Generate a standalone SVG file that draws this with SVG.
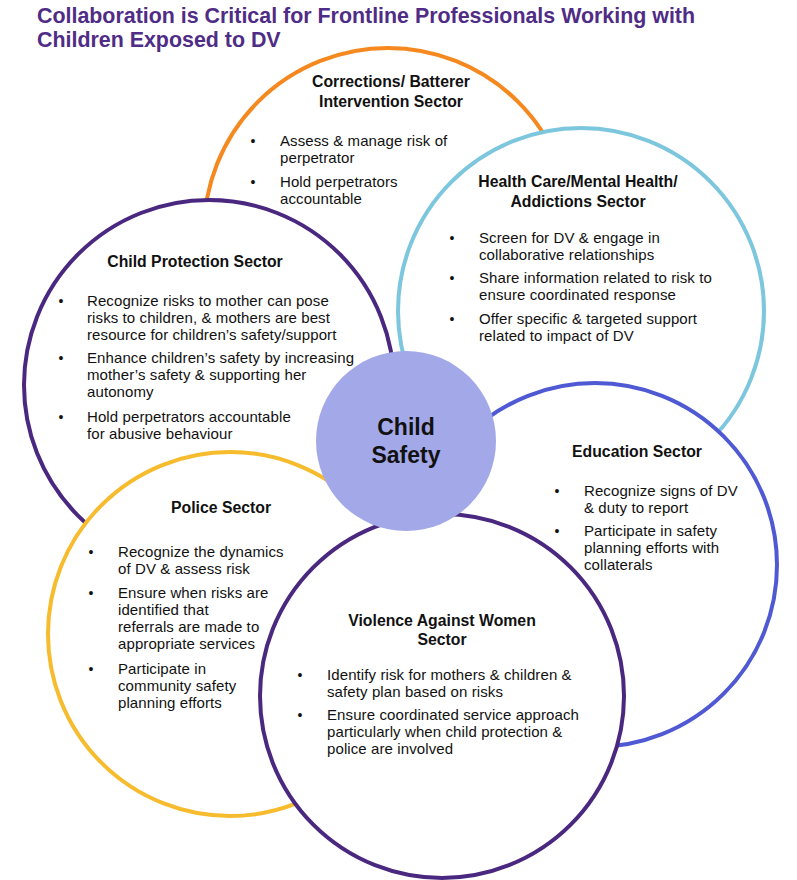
<svg xmlns="http://www.w3.org/2000/svg" width="797" height="880" viewBox="0 0 797 880">
<style>
.ring{fill:#fff;stroke-width:4}
.hd{font-family:"Liberation Sans",Arial,sans-serif;font-weight:700;font-size:15.8px;fill:#111;text-anchor:middle}
.tx{font-family:"Liberation Sans",Arial,sans-serif;font-size:15px;letter-spacing:0.1px;fill:#111}
.bl{font-family:"Liberation Sans",Arial,sans-serif;font-size:14px;fill:#111;text-anchor:middle}
.title{font-family:"Liberation Sans",Arial,sans-serif;font-weight:700;font-size:21.4px;fill:#4F2C85}
.cs{font-family:"Liberation Sans",Arial,sans-serif;font-weight:700;font-size:23px;fill:#111;text-anchor:middle}
</style>
<rect width="797" height="880" fill="#fff"/>
<g id="title">
<text class="title" x="37" y="23">Collaboration is Critical for Frontline Professionals Working with<tspan x="37" y="47">Children Exposed to DV</tspan></text>
</g>
<g id="connectors"/>
<g id="corrections">
<circle class="ring" cx="388" cy="232" r="184" stroke="#F5891F"/>
<text class="hd" x="391" y="87">Corrections/ Batterer<tspan x="391" y="107">Intervention Sector</tspan></text>
<text class="bl" x="253" y="146">•</text>
<text class="tx" x="280" y="146">Assess &amp; manage risk of<tspan x="280" y="163">perpetrator</tspan></text>
<text class="bl" x="253" y="187">•</text>
<text class="tx" x="280" y="187">Hold perpetrators<tspan x="280" y="204">accountable</tspan></text>
</g>
<g id="health">
<circle class="ring" cx="581" cy="311" r="183" stroke="#7CC6DE"/>
<text class="hd" x="578" y="187">Health Care/Mental Health/<tspan x="578" y="207">Addictions Sector</tspan></text>
<text class="bl" x="452" y="243">•</text>
<text class="tx" x="479" y="243">Screen for DV &amp; engage in<tspan x="479" y="260">collaborative relationships</tspan></text>
<text class="bl" x="452" y="283">•</text>
<text class="tx" x="479" y="283">Share information related to risk to<tspan x="479" y="300">ensure coordinated response</tspan></text>
<text class="bl" x="452" y="324">•</text>
<text class="tx" x="479" y="324">Offer specific &amp; targeted support<tspan x="479" y="341">related to impact of DV</tspan></text>
</g>
<g id="child-protection">
<circle class="ring" cx="209" cy="385" r="185" stroke="#4A2880"/>
<text class="hd" x="195" y="267">Child Protection Sector</text>
<text class="bl" x="61" y="306">•</text>
<text class="tx" x="87" y="306">Recognize risks to mother can pose<tspan x="87" y="323">risks to children, &amp; mothers are best</tspan><tspan x="87" y="340">resource for children’s safety/support</tspan></text>
<text class="bl" x="61" y="363">•</text>
<text class="tx" x="87" y="363">Enhance children’s safety by increasing<tspan x="87" y="380">mother’s safety &amp; supporting her</tspan><tspan x="87" y="397">autonomy</tspan></text>
<text class="bl" x="61" y="422">•</text>
<text class="tx" x="87" y="422">Hold perpetrators accountable<tspan x="87" y="439">for abusive behaviour</tspan></text>
</g>
<g id="education">
<circle class="ring" cx="595" cy="565" r="182" stroke="#4F59D3"/>
<text class="hd" x="637" y="457">Education Sector</text>
<text class="bl" x="557" y="496">•</text>
<text class="tx" x="584" y="496">Recognize signs of DV<tspan x="584" y="513">&amp; duty to report</tspan></text>
<text class="bl" x="557" y="536">•</text>
<text class="tx" x="584" y="536">Participate in safety<tspan x="584" y="553">planning efforts with</tspan><tspan x="584" y="570">collaterals</tspan></text>
</g>
<g id="police">
<circle class="ring" cx="230" cy="634" r="182" stroke="#F7BB2E"/>
<text class="hd" x="221" y="513">Police Sector</text>
<text class="bl" x="91" y="557">•</text>
<text class="tx" x="118" y="557">Recognize the dynamics<tspan x="118" y="574">of DV &amp; assess risk</tspan></text>
<text class="bl" x="91" y="598">•</text>
<text class="tx" x="118" y="598">Ensure when risks are<tspan x="118" y="615">identified that</tspan><tspan x="118" y="632">referrals are made to</tspan><tspan x="118" y="649">appropriate services</tspan></text>
<text class="bl" x="91" y="674">•</text>
<text class="tx" x="118" y="674">Participate in<tspan x="118" y="691">community safety</tspan><tspan x="118" y="708">planning efforts</tspan></text>
</g>
<g id="vaw">
<circle class="ring" cx="442" cy="696" r="182" stroke="#4A2880"/>
<text class="hd" x="442" y="626">Violence Against Women<tspan x="442" y="645">Sector</tspan></text>
<text class="bl" x="300" y="680">•</text>
<text class="tx" x="327" y="680">Identify risk for mothers &amp; children &amp;<tspan x="327" y="697">safety plan based on risks</tspan></text>
<text class="bl" x="300" y="720">•</text>
<text class="tx" x="327" y="720">Ensure coordinated service approach<tspan x="327" y="737">particularly when child protection &amp;</tspan><tspan x="327" y="754">police are involved</tspan></text>
</g>
<g id="child-safety">
<circle cx="406" cy="441" r="90" fill="#A3A8E8"/>
<text class="cs" x="406" y="435">Child<tspan x="406" y="463">Safety</tspan></text>
</g>
</svg>
